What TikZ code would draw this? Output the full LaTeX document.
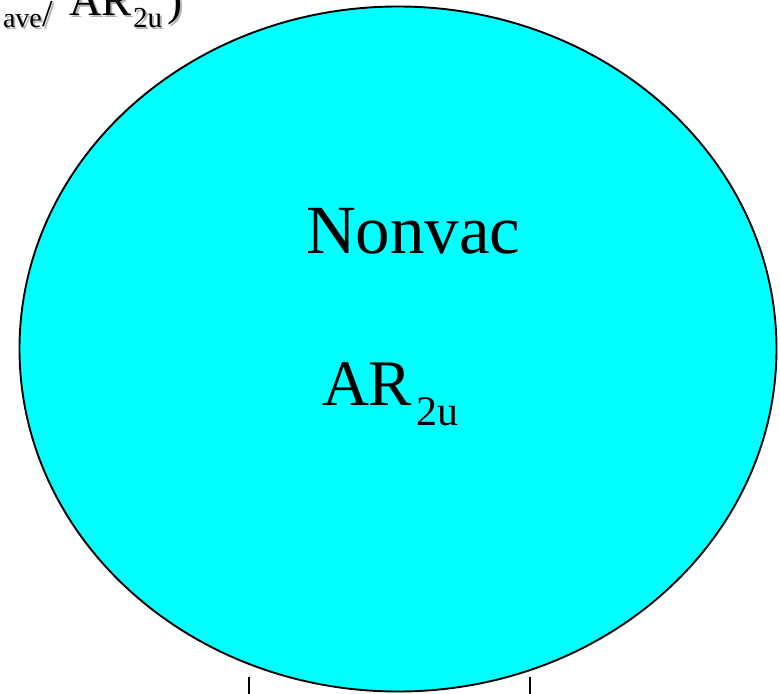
\documentclass[tikz,border=0pt]{standalone}
\usepackage{fontspec}
\setmainfont{Liberation Serif}
\usetikzlibrary{shapes.geometric}
\definecolor{aqua}{RGB}{0,255,255}
\tikzset{
  txt/.style={anchor=base west, inner sep=0pt, outer sep=0pt},
  blob/.style={ellipse, draw=black, line width=1.9pt, fill=aqua, inner sep=0pt,
    minimum width=757pt, minimum height=685pt},
  tick/.style={draw=black, line width=1.3pt}
}
\begin{document}
\begin{tikzpicture}[x=1pt,y=-1pt]
\useasboundingbox (0,0) rectangle (780,694);
% top-left title (cut off), with shadow
\foreach \d/\c in {2/black!30, 0/black}{
  \begin{scope}[shift={(\d,\d)}, text=\c]
    \node[txt] (tave) at (3,27) {\fontsize{28}{30}\selectfont ave};
    \node[txt] (tslash) at (42,26) {\fontsize{38}{40}\selectfont /};
    \node[txt] (tar) at (69,15) {\fontsize{45}{48}\selectfont AR};
    \node[txt] (tsub) at (133,27) {\fontsize{29}{30}\selectfont 2u};
    \node[txt] (tpar) at (167,15) {\fontsize{45}{48}\selectfont )};
  \end{scope}
}
% main ellipse
\node[blob] (cell) at (398,349) {};
\node[txt] (nonvac) at (306,253) {\fontsize{69}{80}\selectfont Nonvac};
\node[txt] (ar) at (322,405) {\fontsize{65}{70}\selectfont AR};
\node[txt] (arsub) at (416,425) {\fontsize{42}{44}\selectfont 2u};
% ticks at bottom
\coordinate (t1a) at (249,677); \coordinate (t1b) at (249,694);
\coordinate (t2a) at (530,677); \coordinate (t2b) at (530,694);
\draw[tick] (t1a) -- (t1b);
\draw[tick] (t2a) -- (t2b);
\end{tikzpicture}
\end{document}
